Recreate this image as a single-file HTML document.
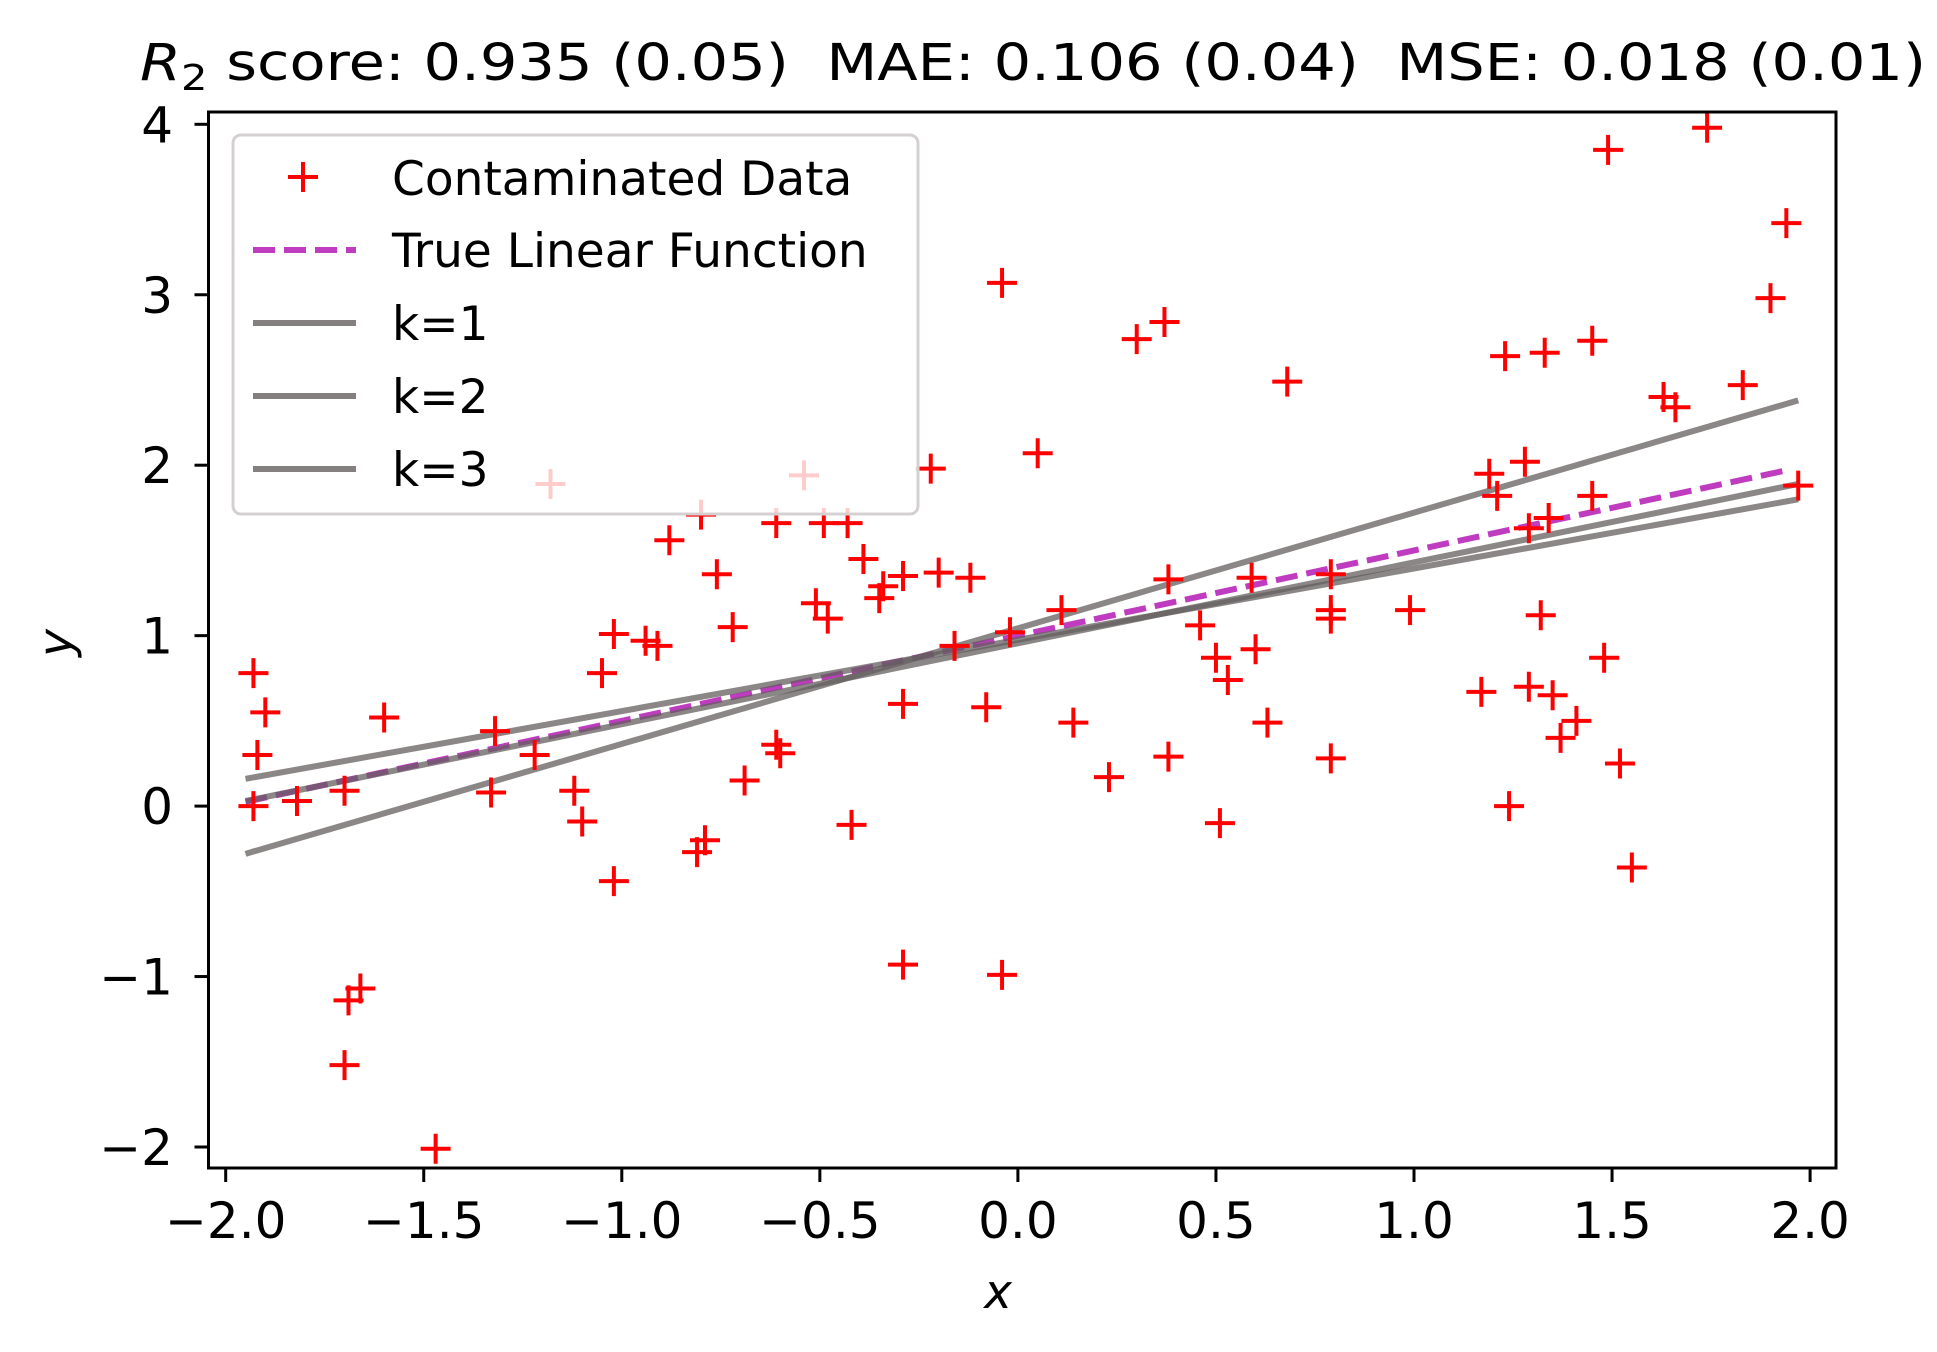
<!DOCTYPE html>
<html><head><meta charset="utf-8"><style>
html,body{margin:0;padding:0;background:#fff;}
svg{display:block;font-family:"DejaVu Sans","Liberation Sans",sans-serif;}
</style></head><body>
<svg id="chart" width="1937" height="1352" viewBox="0 0 1937 1352" xmlns="http://www.w3.org/2000/svg">
<rect width="1937" height="1352" fill="#fff"/>
<text x="1033" y="80" font-size="51" text-anchor="middle" textLength="1786" lengthAdjust="spacingAndGlyphs" style="white-space:pre"><tspan font-style="italic">R</tspan><tspan font-size="36" dy="10">2</tspan><tspan dy="-10"> score: 0.935 (0.05)  MAE: 0.106 (0.04)  MSE: 0.018 (0.01)</tspan></text>
<g id="plot"></g>
<g id="axes"></g>
<g id="legend">
  <rect x="233" y="135" width="685" height="379" rx="8" fill="rgba(255,255,255,0.8)" stroke="#d4d0d0" stroke-width="3"/>
  <g>
    <path d="M303 162v30M288 177h30" stroke="red" stroke-width="4"/>
    <text x="392" y="195" font-size="47">Contaminated Data</text>
  </g>
  <g>
    <line x1="253" y1="250" x2="356" y2="250" stroke="#bf3bbf" stroke-width="6" stroke-dasharray="22,9"/>
    <text x="392" y="267" font-size="47">True Linear Function</text>
  </g>
  <g>
    <line x1="253" y1="323" x2="356" y2="323" stroke="#848080" stroke-width="6"/>
    <text x="392" y="340" font-size="47">k=1</text>
  </g>
  <g>
    <line x1="253" y1="396" x2="356" y2="396" stroke="#848080" stroke-width="6"/>
    <text x="392" y="413" font-size="47">k=2</text>
  </g>
  <g>
    <line x1="253" y1="469" x2="356" y2="469" stroke="#848080" stroke-width="6"/>
    <text x="392" y="486" font-size="47">k=3</text>
  </g>
</g>
<text x="0" y="0" font-size="47" font-style="italic" text-anchor="middle" transform="translate(72,643) rotate(-90)">y</text>
<text x="998" y="1308" font-size="47" font-style="italic" text-anchor="middle">x</text>
</svg>
<script>
const xs = [-1.93,-1.93,-1.92,-1.90,-1.82,-1.70,-1.60,-1.70,-1.69,-1.66,-1.47,-1.32,-1.33,-1.22,-1.18,-1.12,-1.10,-1.05,-1.02,-1.02,-0.94,-0.91,-0.88,-0.80,-0.81,-0.79,-0.76,-0.72,-0.69,-0.61,-0.61,-0.60,-0.54,-0.51,-0.49,-0.48,-0.43,-0.42,-0.39,-0.35,-0.34,-0.29,-0.29,-0.29,-0.22,-0.20,-0.16,-0.12,-0.08,-0.04,-0.04,-0.02,0.05,0.11,0.14,0.23,0.30,0.37,0.38,0.38,0.46,0.50,0.51,0.53,0.59,0.60,0.63,0.68,0.79,0.79,0.79,0.79,0.99,1.17,1.19,1.21,1.23,1.24,1.28,1.29,1.29,1.32,1.33,1.34,1.35,1.37,1.41,1.45,1.45,1.49,1.48,1.52,1.55,1.63,1.66,1.74,1.83,1.90,1.94,1.97];
const ys = [0.00,0.78,0.30,0.55,0.03,0.09,0.52,-1.52,-1.14,-1.07,-2.01,0.44,0.08,0.30,1.89,0.09,-0.09,0.78,1.01,-0.44,0.97,0.94,1.56,1.71,-0.27,-0.20,1.36,1.05,0.15,1.66,0.36,0.31,1.94,1.19,1.66,1.10,1.66,-0.11,1.45,1.22,1.29,1.35,0.60,-0.93,1.98,1.37,0.94,1.34,0.58,3.07,-0.99,1.02,2.07,1.15,0.49,0.17,2.74,2.84,1.33,0.29,1.06,0.87,-0.10,0.74,1.34,0.92,0.49,2.49,1.36,1.15,1.10,0.28,1.15,0.67,1.95,1.82,2.64,0.00,2.02,1.63,0.70,1.12,2.66,1.69,0.65,0.40,0.50,2.73,1.82,3.85,0.87,0.25,-0.36,2.40,2.34,3.98,2.47,2.98,3.42,1.88];
const lineX = [-1.95, 1.97];
const trueY = [0.025, 1.985];
const k1Y = [-0.28, 2.38];
const k2Y = [0.16, 1.80];
const k3Y = [0.03, 1.89];
const xTicks = [-2.0,-1.5,-1.0,-0.5,0.0,0.5,1.0,1.5,2.0];
const xTickLabels = ["\u22122.0","\u22121.5","\u22121.0","\u22120.5","0.0","0.5","1.0","1.5","2.0"];
const yTicks = [-2,-1,0,1,2,3,4];
const yTickLabels = ["\u22122","\u22121","0","1","2","3","4"];

const NS="http://www.w3.org/2000/svg";
const X0=1017.9, XS=396.1, Y0=806.1, YS=170.45;
const L=208.5,R=1836,T=112,B=1168;
function sx(v){return X0+v*XS;}
function sy(v){return Y0-v*YS;}
function mk(tag,attrs,parent){const e=document.createElementNS(NS,tag);for(const k in attrs)e.setAttribute(k,attrs[k]);parent.appendChild(e);return e;}
const plot=document.getElementById('plot');
const axes=document.getElementById('axes');

const tl=mk('line',{x1:sx(lineX[0]),y1:sy(trueY[0]),x2:sx(1.95),y2:sy(trueY[0]+(trueY[1]-trueY[0])*(1.95-lineX[0])/(lineX[1]-lineX[0])),stroke:'#bf3bbf','stroke-width':6,'stroke-dasharray':'22,9'},plot);



function drawLine(yv,name){
  const l=mk('line',{x1:sx(lineX[0]),y1:sy(yv[0]),x2:sx(lineX[1]),y2:sy(yv[1]),stroke:'rgb(100,95,95)','stroke-opacity':0.75,'stroke-width':6},plot);
  
  
}
drawLine(k1Y,'fit-line-k1');
drawLine(k2Y,'fit-line-k2');
drawLine(k3Y,'fit-line-k3');

for(let i=0;i<xs.length;i++){
  const cx=sx(xs[i]), cy=sy(ys[i]);
  const p=mk('path',{d:`M${cx-15} ${cy}h30M${cx} ${cy-15}v30`,stroke:'red','stroke-width':4},plot);
  
  
}

const frame=mk('rect',{x:L,y:T,width:R-L,height:B-T,fill:'none',stroke:'#000','stroke-width':3},axes);


xTicks.forEach((v,i)=>{
  const x=sx(v);
  const t=mk('line',{x1:x,y1:B,x2:x,y2:B+14,stroke:'#000','stroke-width':3},axes);
  
  
  const lb=mk('text',{x:x,y:1238,'font-size':50,'text-anchor':'middle'},axes);
  lb.textContent=xTickLabels[i];
  
  
});
yTicks.forEach((v,i)=>{
  const y=sy(v);
  const t=mk('line',{x1:L-14,y1:y,x2:L,y2:y,stroke:'#000','stroke-width':3},axes);
  
  
  const lb=mk('text',{x:173,y:y+18,'font-size':50,'text-anchor':'end'},axes);
  lb.textContent=yTickLabels[i];
  
  
});
</script>
</body></html>
